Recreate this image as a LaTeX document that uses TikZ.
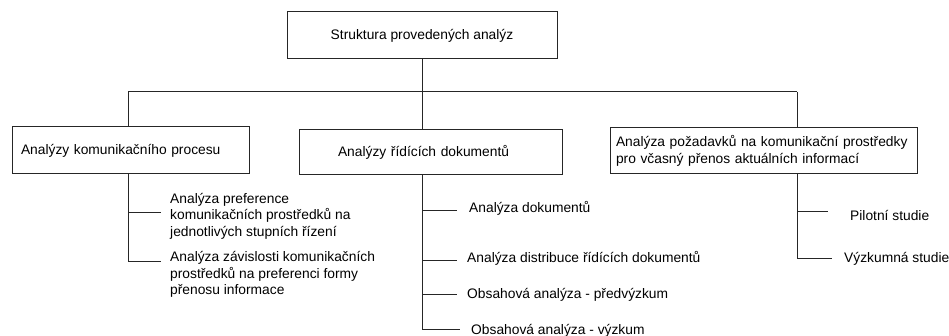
\documentclass[tikz,border=0pt]{standalone}
\usepackage{fontspec}
\setmainfont{Liberation Sans}
\begin{document}
\begin{tikzpicture}[x=1pt,y=-1pt,
  every node/.style={font=\fontsize{13.8}{16.5}\selectfont},
  box/.style={draw=black!85,line width=1pt,inner ysep=0pt,align=left},
  leaf/.style={inner sep=0pt,anchor=west,align=left},
  link/.style={draw=black!85,line width=1pt}]
\useasboundingbox (0,0) rectangle (949,336);

% root and first level
\node[box,minimum width=270,minimum height=47,align=center] (top) at (422,35.5) {Struktura provedených analýz};
\node[box,text width=219,inner xsep=9,minimum height=47] (b1) at (130.5,150.5) {Analýzy komunikačního procesu};
\node[box,text width=185,inner xsep=39,minimum height=45] (b2) at (430.5,152) {\raisebox{2pt}{Analýzy řídících dokumentů}};
\node[box,text width=295,inner xsep=6,minimum height=46] (b3) at (763.5,151) {Analýza požadavků na komunikační prostředky\\pro včasný přenos aktuálních informací};

% bus between root and first level
\coordinate (busL) at (128,92);
\coordinate (busR) at (797,92);
\draw[link] (busL) -- (busR);
\draw[link] (top.south) -- (top.south |- b2.north);
\draw[link] (busL) -- (busL |- b1.north);
\draw[link] (busR) -- (busR |- b3.north);

% leaves under the first box
\node[leaf] (p1) at (170,216) {Analýza preference\\komunikačních prostředků na\\jednotlivých stupních řízení};
\node[leaf] (p2) at (170,274.5) {Analýza závislosti komunikačních\\prostředků na preferenci formy\\přenosu informace};
\coordinate (p1e) at (161,213);
\coordinate (p2e) at (161,262);
\draw[link] (b1.south -| busL) |- (p1e);
\draw[link] (b1.south -| busL) |- (p2e);

% leaves under the second box
\node[leaf] (d1) at (469,208) {Analýza dokumentů};
\node[leaf] (d2) at (467,258) {Analýza distribuce řídících dokumentů};
\node[leaf] (d3) at (467,295) {Obsahová analýza - předvýzkum};
\node[leaf] (d4) at (471,331) {Obsahová analýza - výzkum};
\coordinate (d1e) at (457,211);
\coordinate (d2e) at (457,261);
\coordinate (d3e) at (457,294);
\coordinate (d4e) at (460,329);
\draw[link] (b2.south -| top.south) |- (d1e);
\draw[link] (b2.south -| top.south) |- (d2e);
\draw[link] (b2.south -| top.south) |- (d3e);
\draw[link] (b2.south -| top.south) |- (d4e);

% leaves under the third box
\node[leaf] (s1) at (850,215) {Pilotní studie};
\node[leaf] (s2) at (844,259) {Výzkumná studie};
\coordinate (s1e) at (828,212);
\coordinate (s2e) at (832,259);
\draw[link] (b3.south -| busR) |- (s1e);
\draw[link] (b3.south -| busR) |- (s2e);
\end{tikzpicture}
\end{document}
